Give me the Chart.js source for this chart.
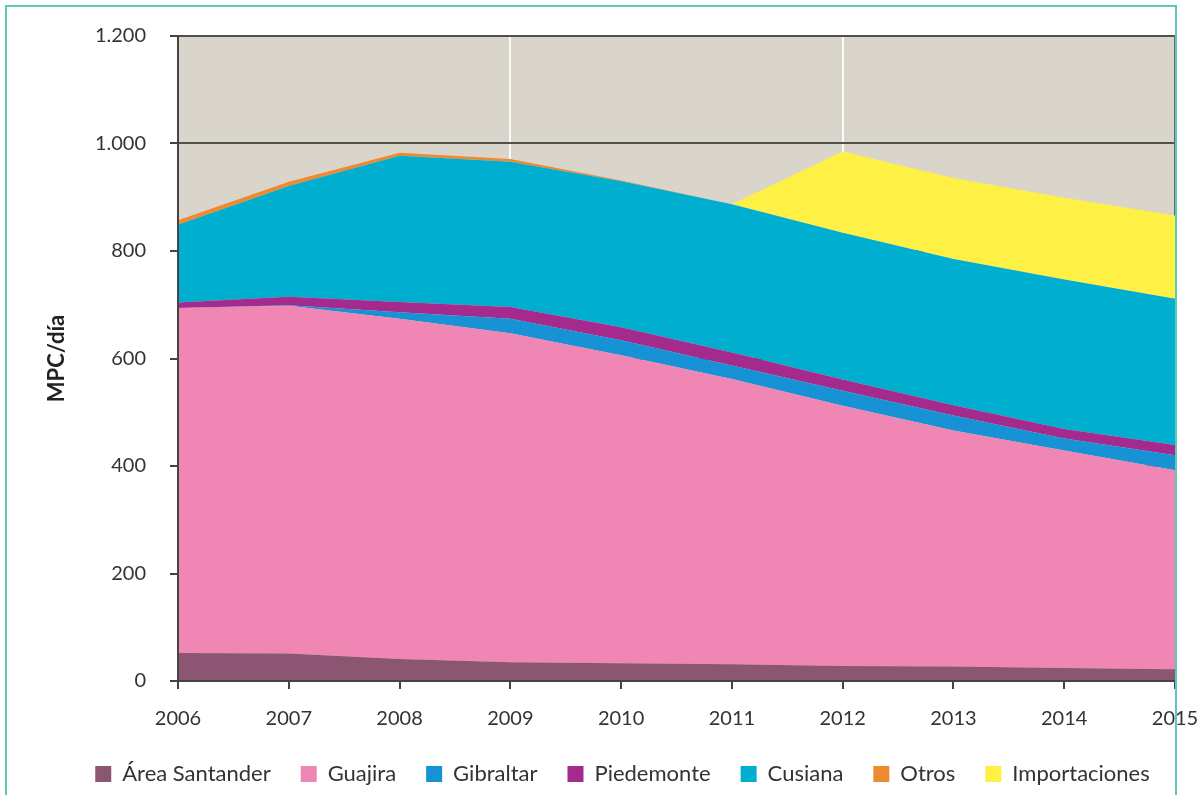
<!DOCTYPE html>
<html>
<head>
<meta charset="utf-8">
<script src="https://cdn.jsdelivr.net/npm/chart.js@4/dist/chart.umd.min.js"></script>
<style>
    html, body { margin: 0; padding: 0; background: #fff; overflow: hidden; }
    #wrap { position: relative; width: 1203px; height: 795px; overflow: hidden; }
    #frame {
        position: absolute; left: 5px; top: 5px; width: 1168px; height: 800px;
        border: 2px solid #5ccab8; border-bottom: none; pointer-events: none;
    }
</style>
</head>
<body>
<div id="wrap">
    <canvas id="chart1"></canvas>
    <div id="frame"></div>
</div>
<script>
// data (MPC/día)
const years = ['2006', '2007', '2008', '2009', '2010', '2011', '2012', '2013', '2014', '2015']
const santander = [52, 51, 41, 35, 33, 31, 28, 27, 24, 22]
const guajira = [642, 647, 633, 612, 573, 531, 484, 439, 405, 370]
const gibraltar = [0, 1, 12, 27, 28, 25, 28, 28, 22, 28]
const piedemonte = [10, 16, 19, 22, 24, 24, 21, 19, 18, 19]
const cusiana = [145, 206, 272, 270, 272, 276, 273, 272, 278, 272]
const otros = [8, 8, 6, 5, 1, 0, 0, 0, 0, 0]
const importaciones = [0, 0, 0, 0, 0, 0, 151, 151, 152, 155]

const seriesNames = ['Área Santander', 'Guajira', 'Gibraltar', 'Piedemonte', 'Cusiana', 'Otros', 'Importaciones']
const seriesData = [santander, guajira, gibraltar, piedemonte, cusiana, otros, importaciones]
const seriesColors = ['#8c5672', '#f086b3', '#1793d5', '#a52a8e', '#00aecf', '#ee8a30', '#fff045']

const fontFamily = "Lato, 'Open Sans', sans-serif"

// stacked areas, each filled down to the one below
const datasets = seriesData.map((d, i) => ({
    label: seriesNames[i],
    data: d,
    backgroundColor: seriesColors[i],
    borderColor: seriesColors[i],
    borderWidth: 0,
    pointRadius: 0,
    tension: 0,
    fill: i == 0 ? 'origin' : '-1'
}))

// beige plot background + right frame line
const plotBackground = {
    id: 'plotBackground',
    beforeDraw(chart) {
        const { ctx, chartArea: a } = chart
        ctx.save()
        ctx.fillStyle = '#dad5cb'
        ctx.fillRect(a.left, a.top, a.right - a.left, a.bottom - a.top)
        ctx.restore()
    },
    beforeDatasetsDraw(chart) {
        const { ctx, chartArea: a } = chart
        ctx.save()
        ctx.strokeStyle = '#666'
        ctx.lineWidth = 2
        ctx.beginPath()
        ctx.moveTo(a.right, a.top)
        ctx.lineTo(a.right, a.bottom)
        ctx.stroke()
        ctx.restore()
    }
}

// move the legend: a bit right of centre, and up into the bottom padding
const legendShift = {
    id: 'legendShift',
    afterLayout(chart) {
        chart.legend.left += 35
        chart.legend.right += 35
        chart.legend.top -= 16
        chart.legend.bottom -= 16
    }
}

const ctx = document.getElementById('chart1').getContext('2d')

new Chart(ctx, {
    type: 'line',
    data: {
        labels: years,
        datasets: datasets
    },
    plugins: [plotBackground, legendShift],
    options: {
        responsive: true,
        maintainAspectRatio: false,
        animation: false,
        layout: {
            padding: { top: 35, right: 28, left: 0, bottom: -16 }
        },
        plugins: {
            tooltip: { enabled: false },
            legend: {
                position: 'bottom',
                labels: {
                    boxWidth: 16,
                    boxHeight: 16,
                    padding: 30,
                    color: '#333',
                    font: { family: fontFamily, size: 22 }
                }
            }
        },
        scales: {
            x: {
                // let "2015" run over the right edge like in the picture
                afterFit: (scale) => { scale.paddingRight = 0; scale.paddingLeft = 0 },
                grid: {
                    color: (c) => (c.index == 3 || c.index == 6) ? 'rgba(255,255,255,0.9)' : 'rgba(0,0,0,0)',
                    lineWidth: 2,
                    tickColor: '#444',
                    tickLength: 8,
                    drawTicks: true
                },
                border: { display: true, color: '#444', width: 2, z: 1 },
                ticks: {
                    color: '#333',
                    padding: 18,
                    maxRotation: 0,
                    font: { family: fontFamily, size: 20 }
                }
            },
            y: {
                stacked: true,
                min: 0,
                max: 1200,
                afterFit: (scale) => { scale.width = 178 },
                grid: {
                    color: '#505050',
                    lineWidth: 2,
                    tickColor: '#444',
                    tickLength: 8
                },
                border: { display: true, color: '#444', width: 2, z: 1 },
                ticks: {
                    stepSize: 200,
                    color: '#333',
                    padding: 24,
                    font: { family: fontFamily, size: 20 },
                    callback: (v) => v >= 1000 ? Math.floor(v / 1000) + '.' + String(v % 1000).padStart(3, '0') : String(v)
                },
                title: {
                    display: true,
                    text: 'MPC/día',
                    color: '#222',
                    padding: { top: 44, bottom: 0 },
                    font: { family: fontFamily, size: 22, weight: 'bold' }
                }
            }
        }
    }
})
</script>
</body>
</html>
